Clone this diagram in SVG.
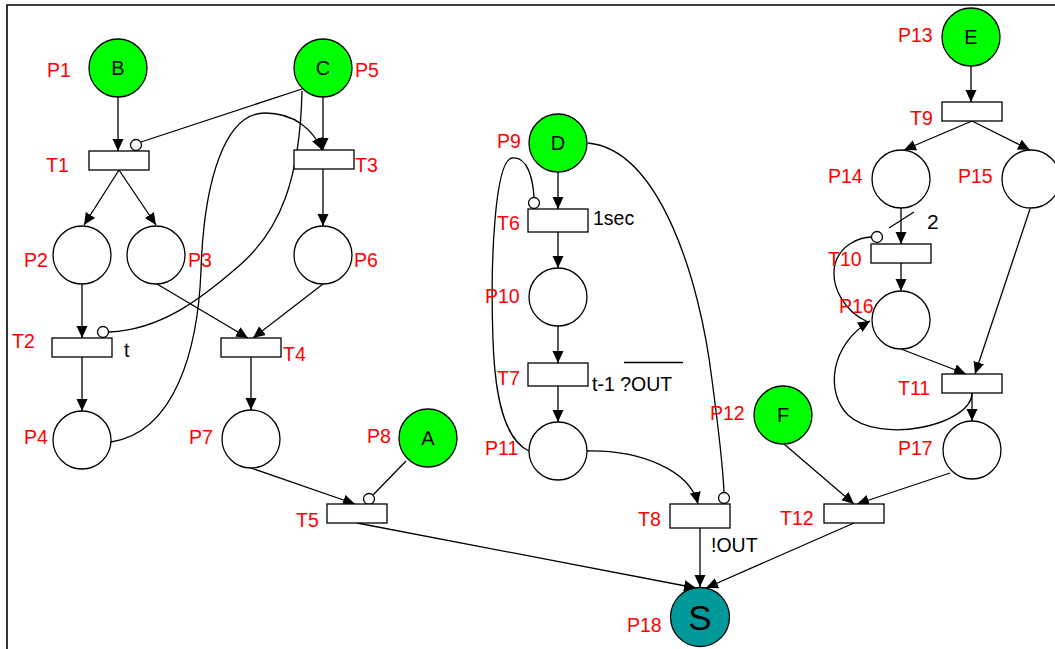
<svg xmlns="http://www.w3.org/2000/svg" width="1055" height="649" viewBox="0 0 1055 649">
<style>
.pl{fill:#fff;stroke:#000;stroke-width:1.3}
.tk{fill:#00ff00;stroke:#000;stroke-width:1.3}
.tr{fill:#fff;stroke:#000;stroke-width:1.3}
.lb{font-family:"Liberation Sans",Arial,sans-serif;font-size:19.5px;fill:#ff0000}
.bl{font-family:"Liberation Sans",Arial,sans-serif;font-size:19.5px;fill:#000}
.tt{font-family:"Liberation Sans",Arial,sans-serif;font-size:20px;fill:#000;text-anchor:middle}
.c{fill:none;stroke:#000;stroke-width:1.3}
.a{fill:none;stroke:#000;stroke-width:1.3;marker-end:url(#ah)}
.inh{fill:#fff;stroke:#000;stroke-width:1.3}
</style>
<defs>
<marker id="ah" markerUnits="userSpaceOnUse" markerWidth="12" markerHeight="12" viewBox="0 0 12 12" refX="12" refY="6" orient="auto">
<path d="M0,0.5 L12,6 L0,11.5 z" fill="#000"/>
</marker>
</defs>
<rect width="1055" height="649" fill="#fff"/>
<path d="M7,649 L7,5 L1055,5" fill="none" stroke="#000" stroke-width="1.6"/>

<g id="connectors">
<path class="a" d="M118,97 L118,151"/>
<path class="c" d="M302,89 L141,142"/>
<circle class="inh" cx="136" cy="145" r="5.5"/>
<path class="a" d="M323,97 L323,150"/>
<path class="a" d="M119,170 L84,225"/>
<path class="a" d="M119,170 L156,225"/>
<path class="a" d="M323,169 L323,226"/>
<path class="a" d="M111,442 C175,432 198,350 201,270 C204,180 225,113 265,113 C295,113 313,130 322,150"/>
<path class="c" d="M302,91 C300,180 280,230 240,265 C200,300 160,330 109,332"/>
<circle class="inh" cx="103" cy="332" r="5.5"/>
<path class="a" d="M82,284 L82,338"/>
<path class="a" d="M82,357 L82,411"/>
<path class="a" d="M157,284 L248,338"/>
<path class="a" d="M323,284 L253,338"/>
<path class="a" d="M251,357 L251,410"/>
<path class="a" d="M251,468 L355,504"/>
<path class="c" d="M406,461 L373,495"/>
<circle class="inh" cx="369" cy="499" r="5.5"/>
<path class="a" d="M357,523 L696,588"/>
<path class="a" d="M558,172 L558,209"/>
<path class="c" d="M529,451 C505,440 495,400 493,340 C490,260 495,160 512,158 C528,156 533,180 534,197"/>
<circle class="inh" cx="534" cy="203" r="5.5"/>
<path class="a" d="M558,232 L558,268"/>
<path class="a" d="M558,326 L558,363"/>
<path class="a" d="M558,386 L558,422"/>
<path class="a" d="M587,451 C640,450 690,470 698,504"/>
<path class="c" d="M588,143 C660,150 700,280 712,380 C720,440 723,470 724,492"/>
<circle class="inh" cx="724" cy="498" r="5.5"/>
<path class="a" d="M700,528 L700,587"/>
<path class="a" d="M784,444 L854,504"/>
<path class="a" d="M950,473 L857,504"/>
<path class="a" d="M854,523 L706,588"/>
<path class="a" d="M971,66 L971,102"/>
<path class="a" d="M972,121 L904,150"/>
<path class="a" d="M972,121 L1030,150"/>
<path class="a" d="M901,208 L901,244"/>
<path class="c" d="M889,228 L914,212"/>
<path class="a" d="M901,263 L901,291"/>
<path class="a" d="M1030,209 L975,374"/>
<path class="a" d="M901,349 L966,374"/>
<path class="a" d="M972,393 L972,421"/>
<path class="a" d="M972,393 C972,425 880,445 848,415 C825,392 830,345 870,321"/>
<path class="c" d="M868,322 C845,312 830,287 835,264 C840,246 858,237 872,237"/>
<circle class="inh" cx="877" cy="237" r="5.5"/>
</g>

<g id="P1"><circle class="tk" cx="118" cy="68" r="29"/><text class="tt" x="118" y="75">B</text><text class="lb" x="47" y="77">P1</text></g>
<g id="P5"><circle class="tk" cx="323" cy="68" r="29"/><text class="tt" x="323" y="75">C</text><text class="lb" x="355" y="77">P5</text></g>
<g id="T1"><rect class="tr" x="89" y="151" width="60" height="19"/><text class="lb" x="46" y="172">T1</text></g>
<g id="T3"><rect class="tr" x="294" y="150" width="60" height="19"/><text class="lb" x="355" y="172">T3</text></g>
<g id="P2"><circle class="pl" cx="82" cy="255" r="29"/><text class="lb" x="24" y="267">P2</text></g>
<g id="P3"><circle class="pl" cx="156" cy="255" r="29"/><text class="lb" x="188" y="267">P3</text></g>
<g id="P6"><circle class="pl" cx="323" cy="255" r="29"/><text class="lb" x="354" y="267">P6</text></g>
<g id="T2"><rect class="tr" x="52" y="338" width="60" height="19"/><text class="lb" x="12" y="348">T2</text><text class="bl" x="124" y="357">t</text></g>
<g id="T4"><rect class="tr" x="221" y="338" width="60" height="19"/><text class="lb" x="283" y="361">T4</text></g>
<g id="P4"><circle class="pl" cx="82" cy="440" r="29"/><text class="lb" x="24" y="444">P4</text></g>
<g id="P7"><circle class="pl" cx="251" cy="439" r="29"/><text class="lb" x="189" y="444">P7</text></g>
<g id="P8"><circle class="tk" cx="428" cy="438" r="29"/><text class="tt" x="428" y="445">A</text><text class="lb" x="367" y="443">P8</text></g>
<g id="T5"><rect class="tr" x="327" y="504" width="60" height="19"/><text class="lb" x="296" y="527">T5</text></g>
<g id="P9"><circle class="tk" cx="558" cy="143" r="29"/><text class="tt" x="558" y="150">D</text><text class="lb" x="497" y="148">P9</text></g>
<g id="T6"><rect class="tr" x="528" y="209" width="60" height="23"/><text class="lb" x="497" y="230">T6</text><text class="bl" x="593" y="225">1sec</text></g>
<g id="P10"><circle class="pl" cx="558" cy="297" r="29"/><text class="lb" x="485" y="303">P10</text></g>
<g id="T7"><rect class="tr" x="528" y="363" width="60" height="23"/><text class="lb" x="497" y="385">T7</text><text class="bl" x="592" y="391">t-1 ?OUT</text><path d="M624,362.5 L683,362.5" stroke="#000" stroke-width="1.3"/></g>
<g id="P11"><circle class="pl" cx="558" cy="451" r="29"/><text class="lb" x="485" y="455">P11</text></g>
<g id="T8"><rect class="tr" x="670" y="504" width="60" height="24"/><text class="lb" x="638" y="526">T8</text><text class="bl" x="711" y="552">!OUT</text></g>
<g id="P12"><circle class="tk" cx="783" cy="415" r="29"/><text class="tt" x="783" y="422">F</text><text class="lb" x="710" y="420">P12</text></g>
<g id="P13"><circle class="tk" cx="971" cy="37" r="29"/><text class="tt" x="971" y="44">E</text><text class="lb" x="898" y="42">P13</text></g>
<g id="T9"><rect class="tr" x="942" y="102" width="60" height="19"/><text class="lb" x="910" y="125">T9</text></g>
<g id="P14"><circle class="pl" cx="901" cy="179" r="29"/><text class="lb" x="828" y="183">P14</text><text class="bl" x="927" y="229" style="font-size:21px">2</text></g>
<g id="P15"><circle class="pl" cx="1031" cy="179" r="29"/><text class="lb" x="958" y="183">P15</text></g>
<g id="T10"><rect class="tr" x="871" y="244" width="60" height="19"/><text class="lb" x="828" y="266">T10</text></g>
<g id="P16"><circle class="pl" cx="901" cy="320" r="29"/><text class="lb" x="839" y="313">P16</text></g>
<g id="T11"><rect class="tr" x="942" y="374" width="60" height="19"/><text class="lb" x="898" y="395">T11</text></g>
<g id="P17"><circle class="pl" cx="972" cy="450" r="29"/><text class="lb" x="898" y="455">P17</text></g>
<g id="T12"><rect class="tr" x="824" y="504" width="60" height="19"/><text class="lb" x="780" y="525">T12</text></g>
<g id="P18"><circle cx="700" cy="617" r="29.5" fill="#009999" stroke="#000" stroke-width="1.3"/><text class="tt" x="700" y="629.5" style="font-size:35px">S</text><text class="lb" x="627" y="632">P18</text></g>
</svg>
